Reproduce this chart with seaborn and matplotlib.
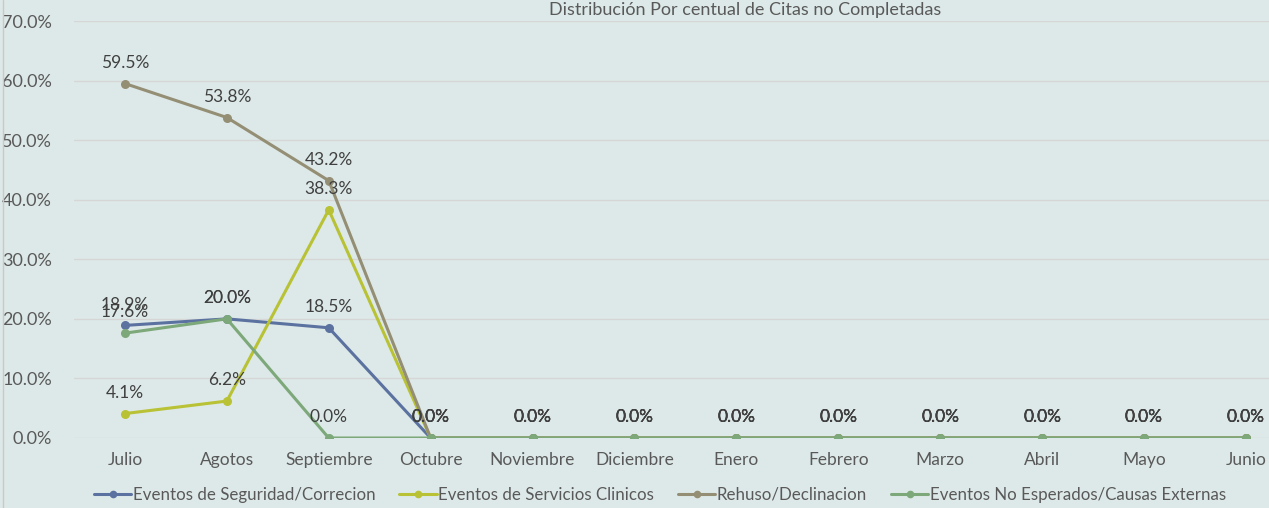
import matplotlib
matplotlib.use("Agg")
import matplotlib.pyplot as plt
import pandas as pd
import seaborn as sns
from matplotlib.lines import Line2D

meses = ["Julio", "Agotos", "Septiembre", "Octubre", "Noviembre", "Diciembre",
         "Enero", "Febrero", "Marzo", "Abril", "Mayo", "Junio"]

seguridad = [18.9, 20.0, 18.5, 0, 0, 0, 0, 0, 0, 0, 0, 0]
clinicos = [4.1, 6.2, 38.3, 0, 0, 0, 0, 0, 0, 0, 0, 0]
rehuso = [59.5, 53.8, 43.2, 0, 0, 0, 0, 0, 0, 0, 0, 0]
no_esperados = [17.6, 20.0, 0, 0, 0, 0, 0, 0, 0, 0, 0, 0]

series = {
    "Eventos de Seguridad/Correcion": seguridad,
    "Eventos de Servicios Clinicos": clinicos,
    "Rehuso/Declinacion": rehuso,
    "Eventos No Esperados/Causas Externas": no_esperados,
}
colores = ["#5B72A0", "#B8C234", "#948E74", "#7DA87A"]

rows = []
for nombre, vals in series.items():
    for mes, v in zip(meses, vals):
        rows.append((nombre, mes, v / 100))
df = pd.DataFrame(rows, columns=["serie", "mes", "valor"])

sns.set_style("white")
plt.rcParams["font.family"] = ["Lato", "DejaVu Sans"]
fondo = "#DDE9E8"
texto = "#595959"

fig = plt.figure(figsize=(12.69, 5.08), dpi=100, facecolor=fondo)
ax = fig.add_axes([74 / 1269, 70 / 508, (1269 - 74) / 1269, 417 / 508])
ax.set_facecolor(fondo)

sns.lineplot(data=df, x="mes", y="valor", hue="serie", palette=colores,
             marker="o", markersize=6.5, markeredgewidth=0, linewidth=2.2,
             sort=False, ax=ax, legend=False)

# etiquetas de datos
for nombre, vals in series.items():
    for i, v in enumerate(vals):
        ax.annotate(f"{v:.1f}%", (i, v / 100), xytext=(0, 15),
                    textcoords="offset points", ha="center", va="center",
                    fontsize=12.5, color="#404040")

ax.set_xlim(-0.5, 11.227)
ax.set_ylim(0, 0.7)
ax.set_yticks([i / 10 for i in range(8)])
ax.set_yticklabels([f"{i * 10:.1f}%" for i in range(8)])
ax.grid(axis="y", color="#D6D6D6", linewidth=1)
ax.set_axisbelow(True)
for s in ax.spines.values():
    s.set_visible(False)
ax.tick_params(axis="both", length=0, labelsize=12.5, labelcolor=texto)
ax.tick_params(axis="y", pad=16, labelsize=13)
ax.tick_params(axis="x", pad=10)
ax.set_xlabel("")
ax.set_ylabel("")

fig.text(745 / 1269, 1 - 10 / 508, "Distribución Por centual de Citas no Completadas",
         ha="center", va="center", fontsize=13, color=texto)

handles = [Line2D([], [], color=c, marker="o", markersize=5.5, markeredgewidth=0,
                  linewidth=2.2) for c in colores]
fig.legend(handles, list(series.keys()), loc="center", ncol=4,
           bbox_to_anchor=(660 / 1269, 13 / 508), frameon=False,
           fontsize=12.2, labelcolor=texto, handlelength=2.2,
           handletextpad=0.1, columnspacing=1.4)

fig.add_artist(Line2D([3 / 1269, 3 / 1269], [0, 1], color="#C9C9C9",
                      linewidth=1, transform=fig.transFigure))

fig.savefig("out.png", dpi=100, facecolor=fondo)
